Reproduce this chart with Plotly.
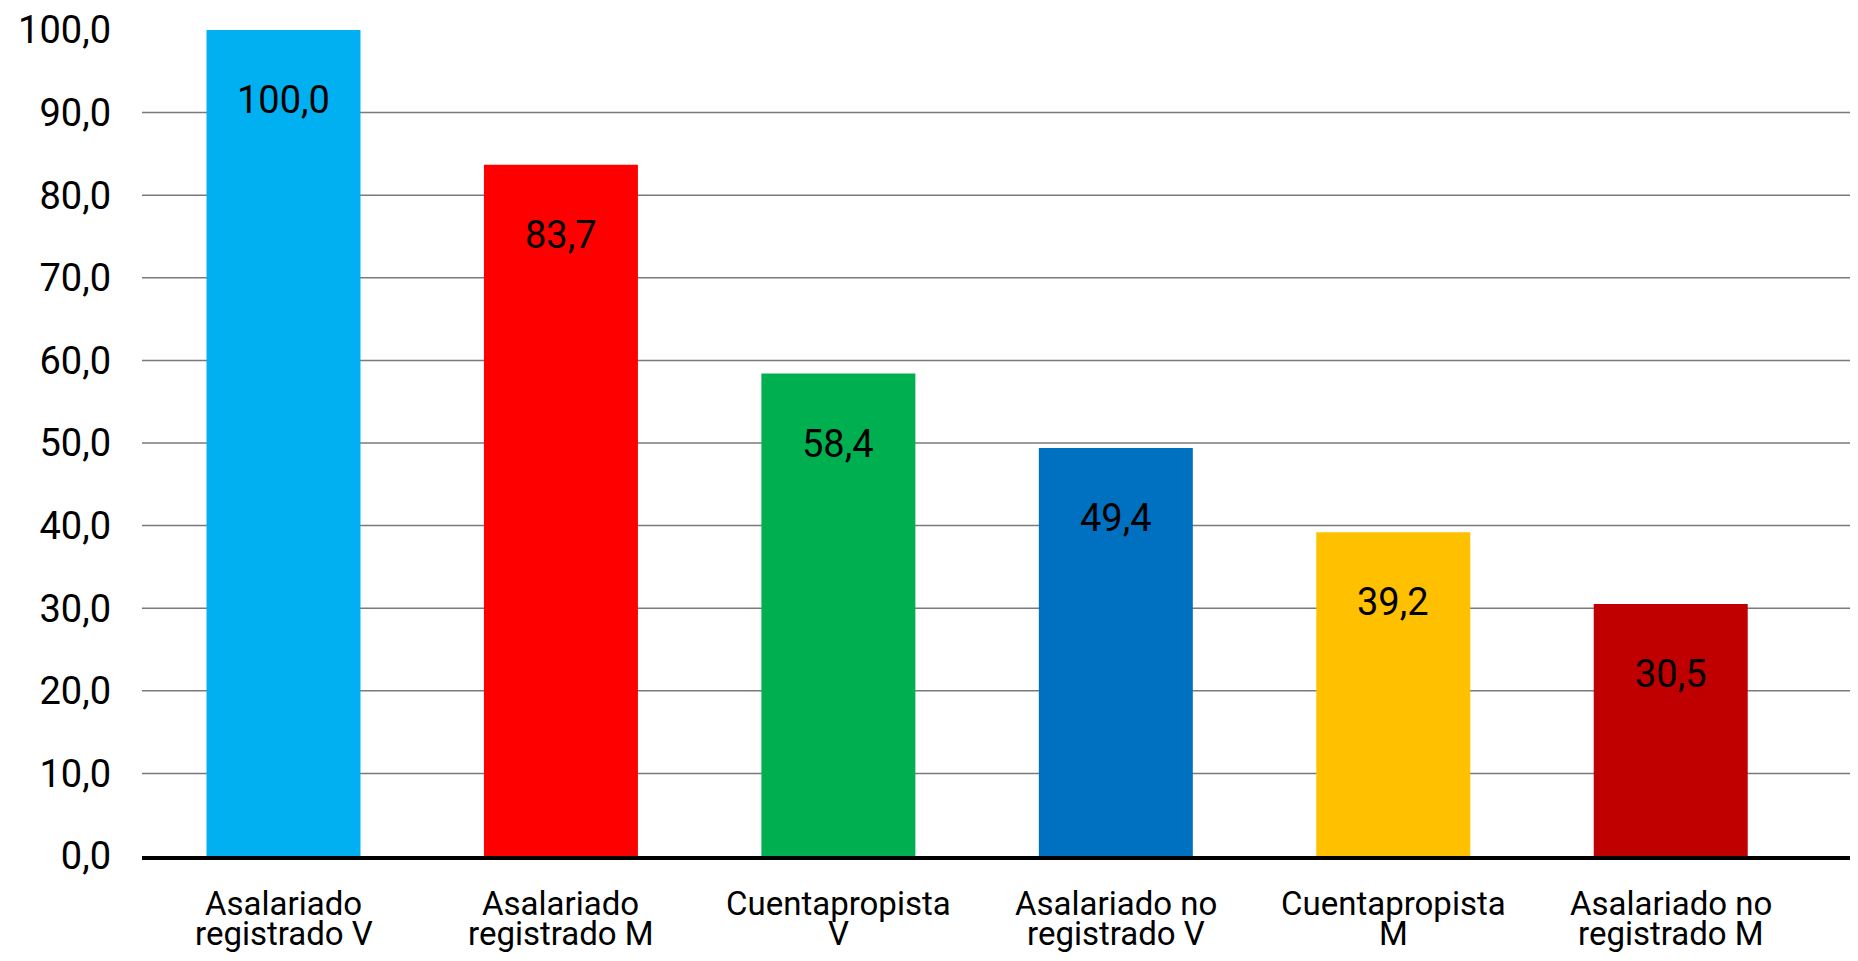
import plotly.graph_objects as go

categories = ["Asalariado<br>registrado V", "Asalariado<br>registrado M", "Cuentapropista<br>V",
              "Asalariado no<br>registrado V", "Cuentapropista<br>M", "Asalariado no<br>registrado M"]
values = [100.0, 83.7, 58.4, 49.4, 39.2, 30.5]
colors = ["#00B0F0", "#FF0000", "#00B050", "#0070C0", "#FFC000", "#C00000"]
y_ticks = [0, 10, 20, 30, 40, 50, 60, 70, 80, 90, 100]
grid_values = [10, 20, 30, 40, 50, 60, 70, 80, 90]

FONT = "Roboto"
x_idx = list(range(len(categories)))

fig = go.Figure()
fig.add_trace(go.Bar(
    x=x_idx, y=values, marker=dict(color=colors, line=dict(width=0)),
    width=0.555, hoverinfo="skip", showlegend=False,
))

shapes = []
for g in grid_values:
    shapes.append(dict(type="line", xref="paper", yref="y", x0=0, x1=1, y0=g, y1=g,
                       line=dict(color="#7a7a7a", width=1.5), layer="below"))

annotations = []
for i, v in zip(x_idx, values):
    annotations.append(dict(x=i, y=v, xref="x", yref="y", text=f"{v:.1f}".replace(".", ","),
                            showarrow=False, yanchor="middle", yshift=-70,
                            font=dict(family=FONT, size=38, color="black")))
for i, c in zip(x_idx, categories):
    lines = c.split("<br>")
    for k, line in enumerate(lines):
        annotations.append(dict(x=i, y=0, xref="x", yref="paper", text=line,
                                showarrow=False, yanchor="top", yshift=-26 - 30 * k,
                                font=dict(family=FONT, size=33, color="black")))

fig.update_layout(
    width=1850, height=953, autosize=False,
    margin=dict(l=134, r=0, t=22, b=105, pad=0),
    paper_bgcolor="white", plot_bgcolor="white",
    separators=",.",
    shapes=shapes, annotations=annotations,
    xaxis=dict(range=[-0.51, 5.675], showticklabels=False, showgrid=False, zeroline=False,
               showline=True, linecolor="black", linewidth=4, ticks="", fixedrange=True),
    yaxis=dict(range=[0, 100], tickvals=y_ticks, tickformat=".1f", showgrid=False,
               zeroline=False, showline=False, ticks="", ticklabelstandoff=30,
               tickfont=dict(family=FONT, size=38, color="black")),
)

fig.write_html("out.html")
